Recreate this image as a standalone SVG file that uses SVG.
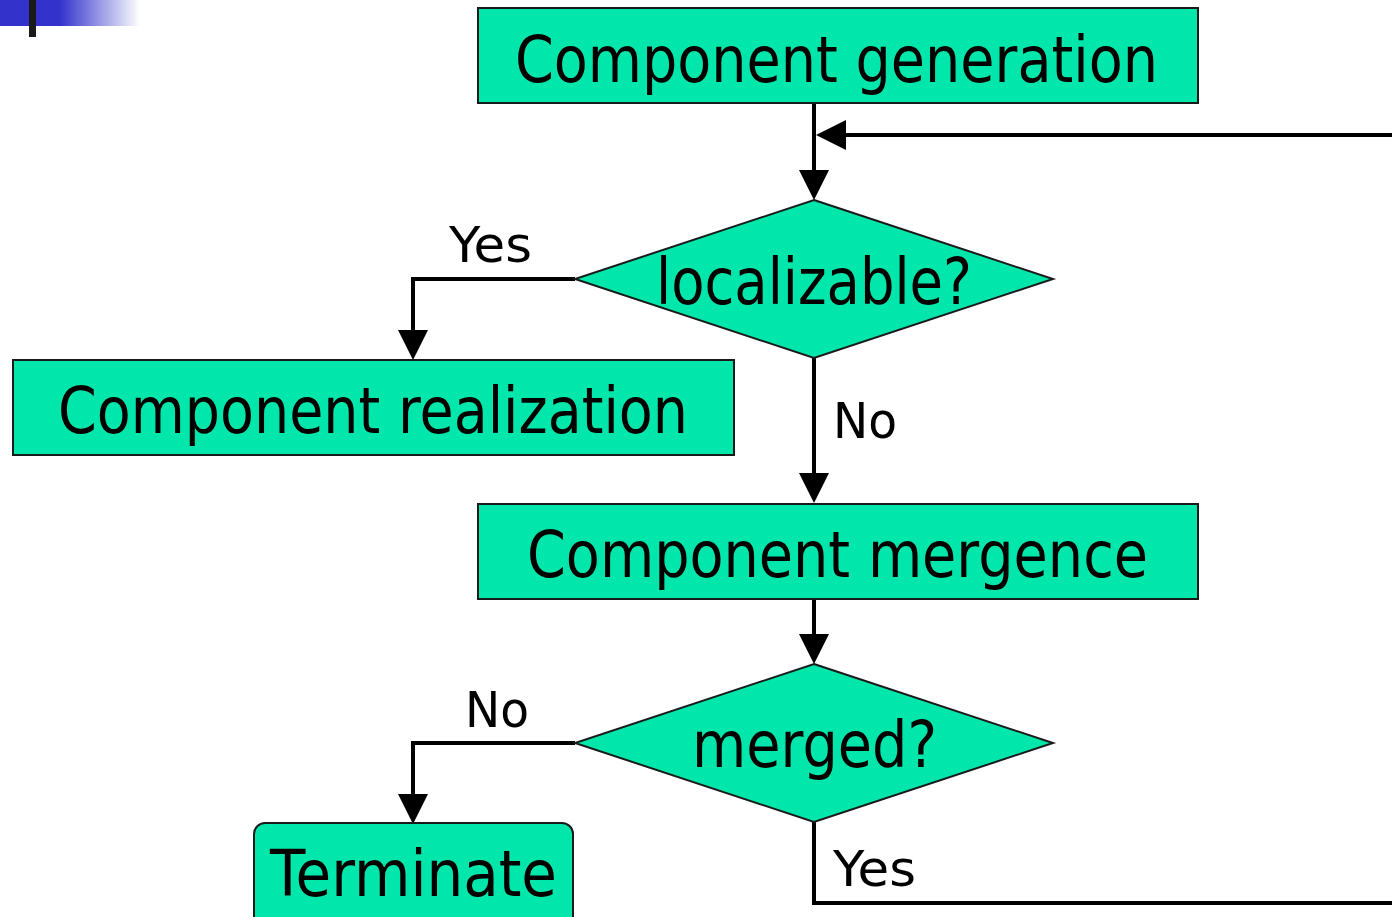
<svg xmlns="http://www.w3.org/2000/svg" width="1392" height="917" viewBox="0 0 1392 917">
  <defs>
    <linearGradient id="barFade" x1="0" y1="0" x2="1" y2="0">
      <stop offset="0" stop-color="#3333CC"/>
      <stop offset="1" stop-color="#3333CC" stop-opacity="0"/>
    </linearGradient>
    <marker id="arrow" markerUnits="userSpaceOnUse" markerWidth="30" markerHeight="30" refX="0" refY="15" orient="auto" viewBox="0 0 30 30">
      <path d="M0,0 L30,15 L0,30 z" fill="#000"/>
    </marker>
    <style>
      .node { fill: #00E6AB; stroke: #1a1a1a; stroke-width: 2; }
      .big { font-family: "DejaVu Sans", Verdana, sans-serif; font-size: 64px; fill: #000; }
      .lbl { font-family: "DejaVu Sans", Verdana, sans-serif; font-size: 50px; fill: #000; }
      .wire { fill: none; stroke: #000; stroke-width: 4; }
    </style>
  </defs>

  <rect width="1392" height="917" fill="#fff"/>

  <!-- header accent -->
  <rect x="0" y="0" width="60" height="26" fill="#3333CC"/>
  <rect x="60" y="0" width="80" height="26" fill="url(#barFade)"/>
  <rect x="29" y="0" width="7" height="37" fill="#1a1a1a"/>

  <!-- connectors -->
  <g id="connectors">
    <path class="wire" d="M814,103 V170" marker-end="url(#arrow)"/>
    <path class="wire" d="M1392,135 H846" marker-end="url(#arrow)"/>
    <path class="wire" d="M575,279 H413 V330" marker-end="url(#arrow)"/>
    <path class="wire" d="M814,358 V473" marker-end="url(#arrow)"/>
    <path class="wire" d="M814,599 V634" marker-end="url(#arrow)"/>
    <path class="wire" d="M575,743 H413 V794" marker-end="url(#arrow)"/>
    <path class="wire" d="M814,822 V903 H1392"/>
    <text class="lbl" x="449" y="262" textLength="83" lengthAdjust="spacingAndGlyphs">Yes</text>
    <text class="lbl" x="833" y="438" textLength="64" lengthAdjust="spacingAndGlyphs">No</text>
    <text class="lbl" x="465" y="727" textLength="64" lengthAdjust="spacingAndGlyphs">No</text>
    <text class="lbl" x="833" y="886" textLength="83" lengthAdjust="spacingAndGlyphs">Yes</text>
  </g>

  <g id="generation">
    <rect class="node" x="478" y="8" width="720" height="95"/>
    <text class="big" x="515" y="82" textLength="643" lengthAdjust="spacingAndGlyphs">Component generation</text>
  </g>

  <g id="localizable">
    <polygon class="node" points="814,200 1053,279 814,358 575,279"/>
    <text class="big" x="656" y="304" textLength="316" lengthAdjust="spacingAndGlyphs">localizable?</text>
  </g>

  <g id="realization">
    <rect class="node" x="13" y="360" width="721" height="95"/>
    <text class="big" x="58" y="433" textLength="630" lengthAdjust="spacingAndGlyphs">Component realization</text>
  </g>

  <g id="mergence">
    <rect class="node" x="478" y="504" width="720" height="95"/>
    <text class="big" x="527" y="577" textLength="621" lengthAdjust="spacingAndGlyphs">Component mergence</text>
  </g>

  <g id="merged">
    <polygon class="node" points="814,664 1053,743 814,822 575,743"/>
    <text class="big" x="692" y="767" textLength="245" lengthAdjust="spacingAndGlyphs">merged?</text>
  </g>

  <g id="terminate">
    <rect class="node" x="254" y="823" width="319" height="110" rx="11" ry="11"/>
    <text class="big" x="270" y="896" textLength="287" lengthAdjust="spacingAndGlyphs">Terminate</text>
  </g>
</svg>
